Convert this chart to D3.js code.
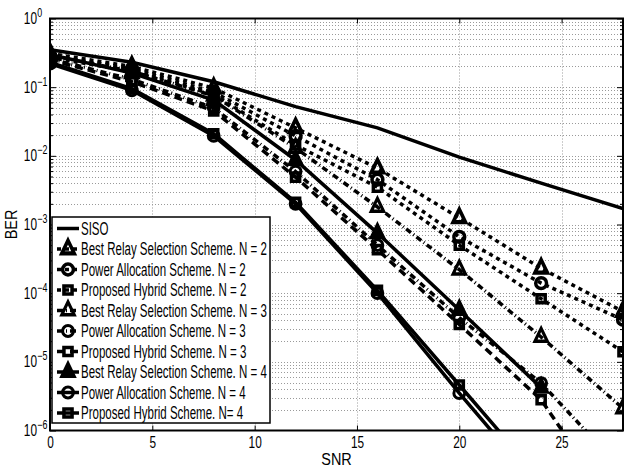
<!DOCTYPE html>
<html>
<head>
<meta charset="utf-8">
<script src="https://cdn.jsdelivr.net/npm/d3@7"></script>
<style>
    body { margin: 0; background: #fff; }
    svg text { font-family: 'Liberation Sans', Arial, sans-serif; fill: #000; }
</style>
</head>
<body>
<div id="draw"></div>
<script>
// data (BER vs SNR)
let snr = [0, 4, 8, 12, 16, 20, 24, 28];
let siso = [0.35, 0.23, 0.12, 0.052, 0.0255, 0.0096, 0.004, 0.0017];
let best2 = [0.31, 0.2, 0.097, 0.0255, 0.0066, 0.00125, 0.00023, 0.000054];
let power2 = [0.29, 0.185, 0.085, 0.0195, 0.0045, 0.00066, 0.00014, 0.000041];
let hybrid2 = [0.27, 0.17, 0.078, 0.0144, 0.0035, 0.0005, 0.000083, 0.000014];
let best3 = [0.29, 0.17, 0.075, 0.013, 0.0018, 0.00022, 0.000023, 0.0000021];
let power3 = [0.26, 0.13, 0.05, 0.0059, 0.0005, 0.000044, 0.0000049, 0.00000026];
let hybrid3 = [0.25, 0.12, 0.045, 0.0049, 0.00043, 0.000035, 0.0000028, 0.00000005];
let best4 = [0.3, 0.16, 0.065, 0.0087, 0.00075, 0.000057, 0.0000042];
let power4 = [0.22, 0.09, 0.0195, 0.002, 0.0001, 0.0000035, 0.00000014];
let hybrid4 = [0.23, 0.095, 0.021, 0.0021, 0.00011, 0.0000046, 0.00000019];

let names = ['SISO',
    'Best Relay Selection Scheme. N = 2', 'Power Allocation Scheme. N = 2', 'Proposed Hybrid Scheme. N = 2',
    'Best Relay Selection Scheme. N = 3', 'Power Allocation Scheme. N = 3', 'Proposed Hybrid Scheme. N = 3',
    'Best Relay Selection Scheme. N = 4', 'Power Allocation Scheme. N = 4', 'Proposed Hybrid Scheme. N= 4'];
let xTicks = [0, 5, 10, 15, 20, 25];
let yExp = [0, -1, -2, -3, -4, -5, -6];

// styles
let dot = '4,4', dash = '8,5', dashdot = '6,3,1,3';
let series = [
    { name: names[0], values: siso, dash: null, marker: null },
    { name: names[1], values: best2, dash: dot, marker: 'tri', sw: 3.5 },
    { name: names[2], values: power2, dash: dot, marker: 'circ', sw: 3.5 },
    { name: names[3], values: hybrid2, dash: dot, marker: 'sq', sw: 3.5 },
    { name: names[4], values: best3, dash: dashdot, marker: 'tri', sw: 3 },
    { name: names[5], values: power3, dash: dashdot, marker: 'circ', sw: 3 },
    { name: names[6], values: hybrid3, dash: dash, marker: 'sq', sw: 3.5 },
    { name: names[7], values: best4, dash: null, marker: 'tri', sw: 3, fill: '#000' },
    { name: names[8], values: power4, dash: null, marker: 'circ', sw: 3 },
    { name: names[9], values: hybrid4, dash: null, marker: 'sq', sw: 3.5 }
];

// parameters
let width = 624, height = 470;
let pLeft = 50, pRight = 623, pTop = 18.5, pBottom = 430.5;
let narrow = 0.74;
let x = d3.scaleLinear().domain([0, 28]).range([pLeft, pRight]);
let y = d3.scaleLog().domain([1e-6, 1]).range([pBottom, pTop]);

let svg = d3.select('#draw').append('svg').attr('width', width).attr('height', height);

svg.append('defs').append('clipPath').attr('id', 'clip')
    .append('rect').attr('x', pLeft).attr('y', pTop).attr('width', pRight - pLeft).attr('height', pBottom - pTop);

// grid
let minors = [];
yExp.slice(1).forEach(e => d3.range(1, 10).forEach(m => minors.push(m * Math.pow(10, e))));
minors = minors.filter(v => v > 1e-6 && v < 1);
let grid = svg.append('g').attr('stroke', '#9a9a9a').attr('stroke-width', 1).attr('stroke-dasharray', '1,2');
grid.selectAll('.gx').data(xTicks.slice(1)).enter().append('line')
    .attr('x1', d => Math.round(x(d)) + 0.5).attr('x2', d => Math.round(x(d)) + 0.5)
    .attr('y1', pTop).attr('y2', pBottom);
grid.selectAll('.gy').data(minors).enter().append('line')
    .attr('x1', pLeft).attr('x2', pRight)
    .attr('y1', d => Math.round(y(d)) + 0.5).attr('y2', d => Math.round(y(d)) + 0.5);

// axes (ticks inward)
let majors = yExp.map(e => Math.pow(10, e));
svg.append('g').attr('transform', 'translate(0,' + pBottom + ')')
    .call(d3.axisBottom(x).tickValues(xTicks).tickSize(-5).tickSizeOuter(0).tickPadding(6))
    .call(g => g.select('.domain').remove())
    .call(g => g.selectAll('text').style('font-size', '16px').attr('font-family', null)
        .attr('transform', 'scale(' + narrow + ',1)'));
svg.append('g').attr('transform', 'translate(0,' + pTop + ')')
    .call(d3.axisTop(x).tickValues(xTicks).tickSize(-5).tickSizeOuter(0).tickFormat(''))
    .call(g => g.select('.domain').remove());
[[d3.axisLeft, pLeft], [d3.axisRight, pRight]].forEach(a => {
    svg.append('g').attr('transform', 'translate(' + a[1] + ',0)')
        .call(a[0](y).tickValues(majors).tickSize(-6).tickSizeOuter(0).tickFormat(''))
        .call(g => g.select('.domain').remove());
    svg.append('g').attr('transform', 'translate(' + a[1] + ',0)')
        .call(a[0](y).tickValues(minors.filter(v => !majors.includes(v))).tickSize(-3).tickSizeOuter(0).tickFormat(''))
        .call(g => g.select('.domain').remove());
});

// y tick labels 10^e
let ylab = svg.append('g').selectAll('g').data(yExp).enter().append('g')
    .attr('transform', d => 'translate(37,' + y(Math.pow(10, d)) + ') scale(' + narrow + ',1)');
ylab.append('text').attr('text-anchor', 'end').attr('y', 5.5).style('font-size', '16px').text('10');
ylab.append('text').attr('x', 0.5).attr('y', -1.5).style('font-size', '12px').text(d => d == 0 ? '0' : '\u2212' + (-d));

// lines
let line = d3.line().x((d, i) => x(snr[i])).y(d => y(d));
let plot = svg.append('g').attr('clip-path', 'url(#clip)');
let sym = {
    tri: d3.symbol(d3.symbolTriangle, 66)(),
    circ: d3.symbol(d3.symbolCircle, 92)(),
    sq: d3.symbol(d3.symbolSquare, 66)()
};
let markerTransform = m => m == 'tri' ? ' scale(1,1.2)' : '';

series.forEach(s => {
    plot.append('path').datum(s.values)
        .attr('d', line)
        .attr('fill', 'none')
        .attr('stroke', '#000')
        .attr('stroke-width', 3.5)
        .attr('stroke-dasharray', s.dash);
    if (s.marker) {
        plot.append('g').selectAll('path').data(s.values).enter().append('path')
            .attr('d', sym[s.marker])
            .attr('transform', (d, i) => 'translate(' + x(snr[i]) + ',' + y(d) + ')' + markerTransform(s.marker))
            .attr('fill', s.fill || 'none')
            .attr('stroke', '#000')
            .attr('stroke-width', s.sw);
    }
});

// frame
svg.append('rect').attr('x', pLeft).attr('y', pTop).attr('width', pRight - pLeft).attr('height', pBottom - pTop)
    .attr('fill', 'none').attr('stroke', '#000').attr('stroke-width', 2);

// legend
let lg = svg.append('g');
lg.append('rect').attr('x', 52).attr('y', 217).attr('width', 218).attr('height', 206)
    .attr('fill', '#fff').attr('stroke', '#000').attr('stroke-width', 1.5);
let rows = lg.selectAll('.row').data(series).enter().append('g')
    .attr('transform', (d, i) => 'translate(0,' + (228.5 + i * 20.5) + ')');
rows.append('line').attr('x1', 57).attr('x2', 79).attr('y1', 0).attr('y2', 0)
    .attr('stroke', '#000').attr('stroke-width', 3.5).attr('stroke-dasharray', d => d.dash);
rows.filter(d => d.marker).append('path')
    .attr('d', d => sym[d.marker])
    .attr('transform', d => 'translate(68,0)' + markerTransform(d.marker))
    .attr('fill', d => d.fill || 'none').attr('stroke', '#000').attr('stroke-width', d => d.sw);
let texts = rows.append('text').attr('y', 6).style('font-size', '17.5px').text(d => d.name);
let longest = texts.filter((d, i) => i == 1).node().getComputedTextLength();
let sx = 186 / longest;
texts.attr('transform', 'translate(81,0) scale(' + sx + ',1)');

// axis titles
svg.append('text').attr('transform', 'translate(' + (pLeft + pRight) / 2 + ',465) scale(0.85,1)')
    .attr('text-anchor', 'middle').style('font-size', '17px').text('SNR');
svg.append('text').attr('transform', 'translate(17,' + (pTop + pBottom) / 2 + ') rotate(-90) scale(0.85,1)')
    .attr('text-anchor', 'middle').style('font-size', '17px').text('BER');
</script>
</body>
</html>
